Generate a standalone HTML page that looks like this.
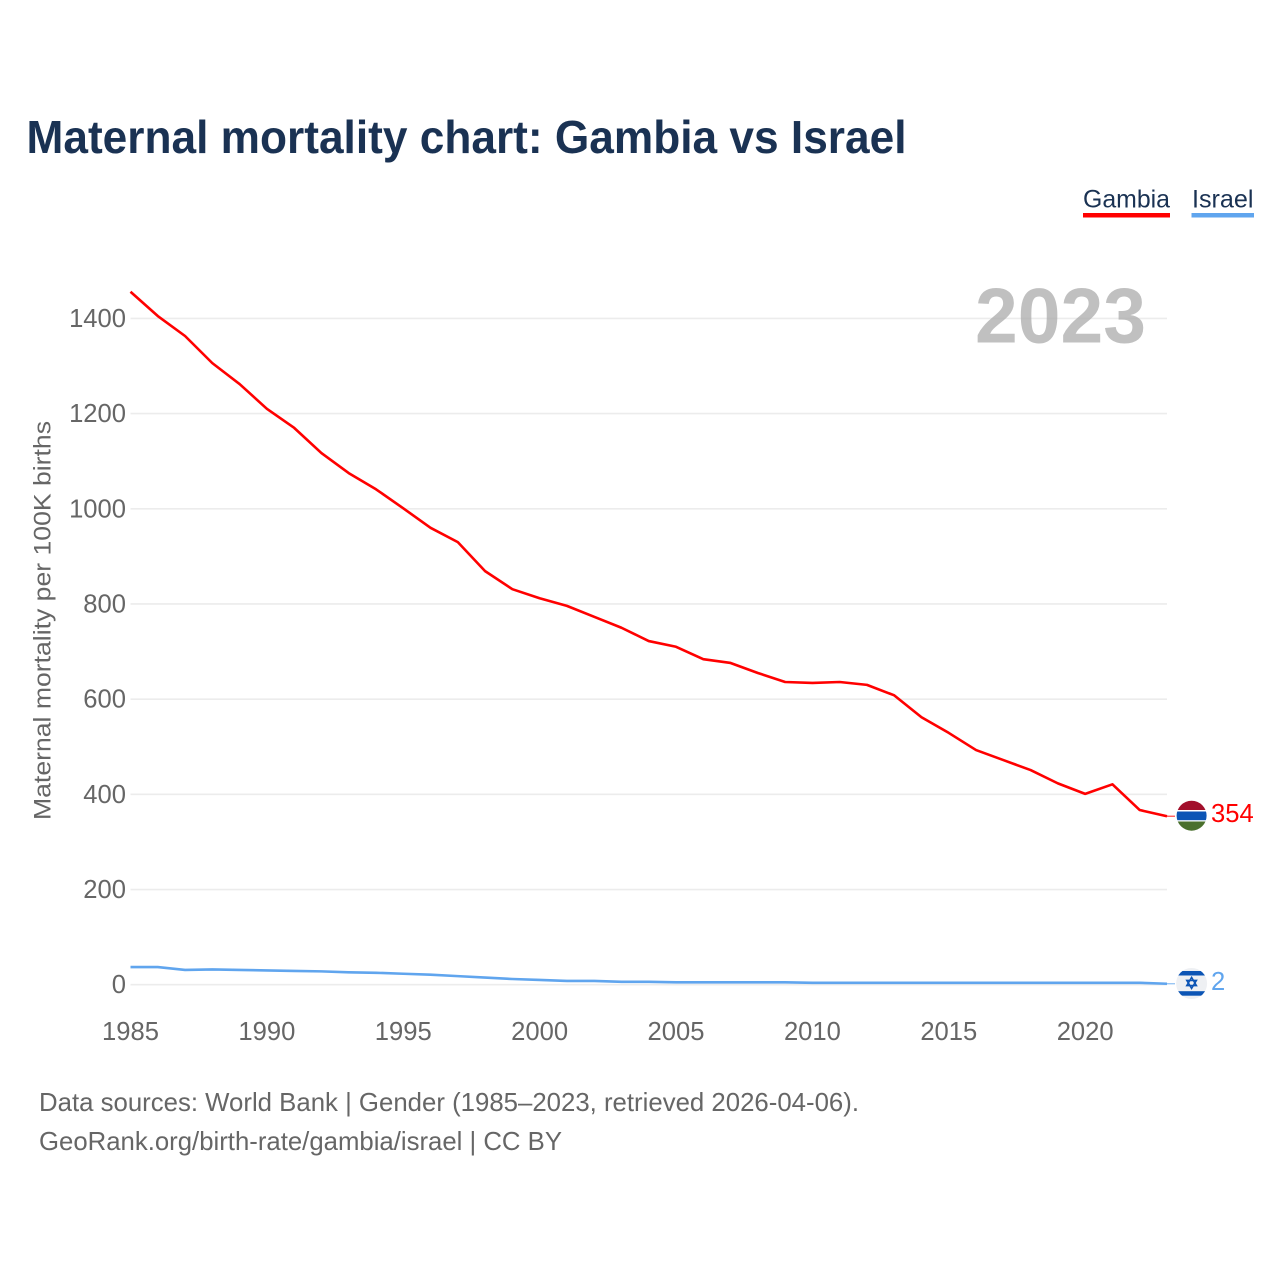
<!DOCTYPE html>
<html lang="en">
<head>
<meta charset="utf-8">
<title>Maternal mortality chart: Gambia vs Israel</title>
<style>
html,body{margin:0;padding:0;background:#fff;}
#chart{display:block;width:1280px;height:1280px;font-family:"Liberation Sans",Arial,sans-serif;}
</style>
</head>
<body>
<svg id="chart" xmlns="http://www.w3.org/2000/svg" width="1280" height="1280" viewBox="0 0 1280 1280">
  <rect x="0" y="0" width="1280" height="1280" fill="#ffffff"/>
  <text x="26.5" y="153" font-size="46" font-weight="700" fill="#1a3253" textLength="880" lengthAdjust="spacingAndGlyphs">Maternal mortality chart: Gambia vs Israel</text>

  <g>
    <g>
      <text x="1083" y="207.5" font-size="25" fill="#1a3253" textLength="87" lengthAdjust="spacingAndGlyphs">Gambia</text>
      <rect x="1083" y="213" width="87" height="4.5" fill="#ff0000"/>
    </g>
    <g>
      <text x="1192" y="207.5" font-size="25" fill="#1a3253" textLength="61.5" lengthAdjust="spacingAndGlyphs">Israel</text>
      <rect x="1191.5" y="213" width="62.5" height="4.5" fill="#60a5ee"/>
    </g>
  </g>

  <g id="grid"></g>
  <g id="yticks"></g>
  <g id="xticks"></g>

  <text transform="translate(50.5,820) rotate(-90)" font-size="24" fill="#666666" textLength="399" lengthAdjust="spacingAndGlyphs">Maternal mortality per 100K births</text>

  <text id="year-label" x="975" y="342.5" font-size="78" font-weight="700" fill="#a8a8a8" fill-opacity="0.72" textLength="171" lengthAdjust="spacingAndGlyphs">2023</text>

  <g id="series"></g>

  <g id="flag-gambia">
    <clipPath id="clip-gm"><circle cx="1191.6" cy="815.7" r="15"/></clipPath>
    <g clip-path="url(#clip-gm)">
      <rect x="1176" y="800" width="32" height="32" fill="#ffffff"/>
      <rect x="1176" y="800" width="32" height="10" fill="#a20f2b"/>
      <rect x="1176" y="811.5" width="32" height="8.7" fill="#0c55b5"/>
      <rect x="1176" y="821.5" width="32" height="10" fill="#4a702d"/>
    </g>
  </g>
  <g id="flag-israel">
    <clipPath id="clip-il"><circle cx="1191.6" cy="983.5" r="15.5"/></clipPath>
    <g clip-path="url(#clip-il)">
      <rect x="1176" y="968" width="32" height="32" fill="#eef0f3"/>
      <rect x="1176" y="971" width="32" height="4.5" fill="#0c55b5"/>
      <rect x="1176" y="991.2" width="32" height="4.5" fill="#0c55b5"/>
    </g>
    <polygon points="1191.6,977.4 1196.4,985.6 1186.8,985.6" fill="none" stroke="#0c55b5" stroke-width="1.6"/>
    <polygon points="1191.6,988.4 1196.4,980.4 1186.8,980.4" fill="none" stroke="#0c55b5" stroke-width="1.6"/>
  </g>

  <text id="value-gambia" x="1211" y="822" font-size="25.6" fill="#ff0000">354</text>
  <text id="value-israel" x="1211" y="990" font-size="25.6" fill="#60a5ee">2</text>

  <g>
    <text x="39" y="1111" font-size="25.6" fill="#666666" textLength="820" lengthAdjust="spacingAndGlyphs">Data sources: World Bank | Gender (1985–2023, retrieved 2026-04-06).</text>
    <text x="39" y="1150" font-size="25.6" fill="#666666" textLength="523" lengthAdjust="spacingAndGlyphs">GeoRank.org/birth-rate/gambia/israel | CC BY</text>
  </g>
</svg>
<script>
const years = [1985,1986,1987,1988,1989,1990,1991,1992,1993,1994,1995,1996,1997,1998,1999,2000,2001,2002,2003,2004,2005,2006,2007,2008,2009,2010,2011,2012,2013,2014,2015,2016,2017,2018,2019,2020,2021,2022,2023];
const gambiaValues = [1456,1405,1363,1306,1262,1210,1170,1117,1075,1041,1001,960,930,869,831,812,796,773,750,722,710,684,676,655,636,634,636,630,608,562,529,493,472,451,423,401,421,367,354];
const israelValues = [37,37,31,32,31,30,29,28,26,25,23,21,18,15,12,10,8,8,6,6,5,5,5,5,5,4,4,4,4,4,4,4,4,4,4,4,4,4,2];
const yTickValues = [0,200,400,600,800,1000,1200,1400];
const xTickValues = [1985,1990,1995,2000,2005,2010,2015,2020];

const NS = 'http://www.w3.org/2000/svg';
function xScale(year){ return 130.5 + (year - 1985) * (1167 - 130.5) / (2023 - 1985); }
function yScale(value){ return 984.7 - value * (984.7 - 318.4) / 1400; }

const gridGroup = document.getElementById('grid');
const yTickGroup = document.getElementById('yticks');
const xTickGroup = document.getElementById('xticks');
const seriesGroup = document.getElementById('series');

yTickValues.forEach(function(v){
  const line = document.createElementNS(NS, 'line');
  
  
  line.setAttribute('x1', xScale(1985));
  line.setAttribute('x2', xScale(2023));
  line.setAttribute('y1', yScale(v));
  line.setAttribute('y2', yScale(v));
  line.setAttribute('stroke', '#ececec');
  line.setAttribute('stroke-width', '1.6');
  gridGroup.appendChild(line);

  const t = document.createElementNS(NS, 'text');
  
  
  t.setAttribute('x', 126);
  t.setAttribute('y', yScale(v) + 8.5);
  t.setAttribute('text-anchor', 'end');
  t.setAttribute('font-size', '25.6');
  t.setAttribute('fill', '#666666');
  t.textContent = String(v);
  yTickGroup.appendChild(t);
});

xTickValues.forEach(function(y){
  const t = document.createElementNS(NS, 'text');
  
  
  t.setAttribute('x', xScale(y));
  t.setAttribute('y', 1040);
  t.setAttribute('text-anchor', 'middle');
  t.setAttribute('font-size', '25.6');
  t.setAttribute('fill', '#666666');
  t.textContent = String(y);
  xTickGroup.appendChild(t);
});

function drawSeries(values, color, name){
  const pts = values.map(function(v, i){ return xScale(years[i]).toFixed(2) + ',' + yScale(v).toFixed(2); });
  const line = document.createElementNS(NS, 'polyline');
  
  
  line.setAttribute('points', pts.join(' '));
  line.setAttribute('fill', 'none');
  line.setAttribute('stroke', color);
  line.setAttribute('stroke-width', '2.6');
  line.setAttribute('stroke-linejoin', 'round');
  seriesGroup.appendChild(line);

  const lastY = yScale(values[values.length - 1]);
  const stub = document.createElementNS(NS, 'line');
  
  
  stub.setAttribute('x1', xScale(2023));
  stub.setAttribute('x2', xScale(2023) + 8);
  stub.setAttribute('y1', lastY);
  stub.setAttribute('y2', lastY);
  stub.setAttribute('stroke', color);
  stub.setAttribute('stroke-width', '1.2');
  stub.setAttribute('stroke-opacity', '0.75');
  seriesGroup.appendChild(stub);
}
drawSeries(gambiaValues, '#ff0000', 'gambia');
drawSeries(israelValues, '#60a5ee', 'israel');
</script>
</body>
</html>
